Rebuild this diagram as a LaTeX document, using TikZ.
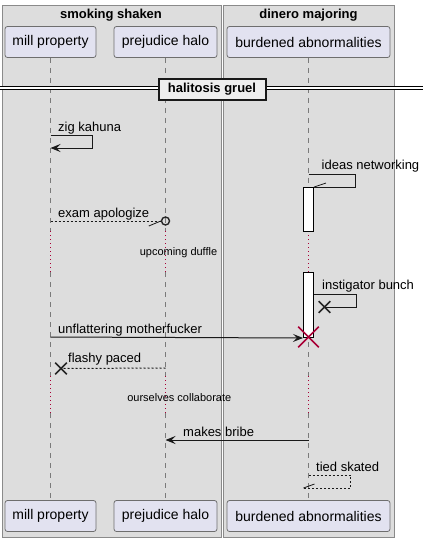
\documentclass[tikz,border=0pt]{standalone}
\usepackage{fontspec}
\setmainfont{Liberation Sans}
\usetikzlibrary{arrows.meta,shapes.misc}
\definecolor{grpfill}{HTML}{DDDDDD}
\definecolor{grpdraw}{HTML}{8A8A8A}
\definecolor{partfill}{HTML}{E2E2F0}
\definecolor{partdraw}{HTML}{6E6E6E}
\definecolor{lifecol}{HTML}{7A7A7A}
\definecolor{plred}{HTML}{A80036}
\definecolor{divfill}{HTML}{EEEEEE}
\begin{document}
\begin{tikzpicture}[x=1pt,y=-1pt,
  grp/.style={draw=grpdraw, fill=grpfill, line width=1pt, anchor=north west, inner sep=0pt},
  grptitle/.style={anchor=base, inner sep=0pt, font=\bfseries\fontsize{13}{15}\selectfont},
  part/.style={draw=partdraw, fill=partfill, rounded corners=2.5pt, line width=0.8pt,
    minimum height=31pt, inner sep=0pt, font=\fontsize{14}{16}\selectfont},
  life/.style={draw=lifecol, dash pattern=on 5pt off 5pt, line width=0.8pt},
  delayline/.style={draw=plred, dash pattern=on 1pt off 3pt, line width=0.8pt},
  msg/.style={draw=black!90, line width=1pt},
  dmsg/.style={draw=black!90, line width=1pt, dash pattern=on 2pt off 2pt},
  lbl/.style={anchor=base west, inner sep=0pt, font=\fontsize{13}{15}\selectfont},
  dlbl/.style={anchor=base, inner sep=0pt, font=\fontsize{11}{13}\selectfont},
  tipfull/.style={-{Stealth[length=10pt,width=8pt,inset=4pt]}},
  actbox/.style={draw=black, fill=white, line width=1pt, minimum width=10pt, inner sep=0pt, anchor=north},
  xsmall/.style={cross out, draw=black!85, line width=1.6pt, minimum size=10pt, inner sep=0pt},
  xbig/.style={cross out, draw=plred, line width=1.6pt, minimum size=19pt, inner sep=0pt}
]
\useasboundingbox (0,0) rectangle (430,542);

% groups
\node[grp, minimum width=219.5pt, minimum height=532pt] (g1) at (1.5,5) {};
\node[grp, minimum width=171pt, minimum height=532pt] (g2) at (223,5) {};
\node[grptitle] (t1) at (111,18.5) {smoking shaken};
\node[grptitle] (t2) at (308.5,18.5) {dinero majoring};

% row coordinates
\coordinate (dA1) at (0,231);
\coordinate (dA2) at (0,272);
\coordinate (dB1) at (0,376);
\coordinate (dB2) at (0,413);
\coordinate (r1) at (0,135);
\coordinate (r1b) at (0,148);
\coordinate (r2) at (0,174);
\coordinate (r3) at (0,221);
\coordinate (r5) at (0,294);
\coordinate (r6) at (0,337);
\coordinate (r7) at (0,368);
\coordinate (r9) at (0,440);
\coordinate (r10) at (0,475);

% participants
\node[part, minimum width=91pt] (top-mp) at (50.5,42) {mill property};
\node[part, minimum width=103pt] (top-ph) at (165.5,42) {prejudice halo};
\node[part, minimum width=163pt] (top-ba) at (308.5,42) {burdened abnormalities};
\node[part, minimum width=91pt] (bot-mp) at (50.5,516) {mill property};
\node[part, minimum width=103pt] (bot-ph) at (165.5,516) {prejudice halo};
\node[part, minimum width=163pt] (bot-ba) at (308.5,516) {burdened abnormalities};

% lifelines
\foreach \p in {mp,ph,ba}{
  \draw[life] (top-\p.south) -- (top-\p.south |- dA1);
  \draw[delayline] (top-\p.south |- dA1) -- (top-\p.south |- dA2);
  \draw[life] (top-\p.south |- dA2) -- (top-\p.south |- dB1);
  \draw[delayline] (top-\p.south |- dB1) -- (top-\p.south |- dB2);
  \draw[life] (top-\p.south |- dB2) -- (bot-\p.north);
}

% divider
\coordinate (divL) at (0,86);
\coordinate (divR) at (423,86);
\coordinate (divL2) at (0,89.5);
\coordinate (divR2) at (423,89.5);
\fill[white] (divL) rectangle (divR2);
\draw[line width=1pt] (divL) -- (divR);
\draw[line width=1pt] (divL2) -- (divR2);
\node[draw=black!90, line width=2pt, fill=divfill, minimum width=107pt, minimum height=21pt,
  inner sep=0pt, font=\bfseries\fontsize{13}{15}\selectfont] (div) at (212,89) {halitosis gruel};

% activations
\node[actbox, minimum height=44pt] (act1) at (308.5,187) {};
\node[actbox, minimum height=65pt] (act2) at (308.5,272) {};

% zig kahuna
\draw[msg, tipfull] (top-mp |- r1) -- ++(42,0) -- ++(0,13) -- (top-mp |- r1b);
\node[lbl] (l1) at (58,131) {zig kahuna};

% ideas networking
\draw[msg] (top-ba |- r2) -- ++(47,0) -- ++(0,13) -- (act1.north east);
\draw[msg, line width=0.8pt] (act1.north east) -- ++(12,-4);
\node[lbl] (l2) at (321.5,169) {ideas networking};

% exam apologize
\node[circle, draw=black!85, line width=1.4pt, minimum size=8pt, inner sep=0pt] (circ) at (165.5,221) {};
\draw[dmsg] (top-mp |- r3) -- (circ.west);
\draw[msg, line width=0.8pt] (circ.west) -- ++(-12,5);
\node[lbl] (l3) at (58,217.5) {exam apologize};

% delay 1
\node[dlbl] (dl1) at (178.5,255.5) {upcoming duffle};

% instigator bunch
\node[xsmall] (x1) at (324.5,307) {};
\draw[msg] (act2.east |- r5) -- ++(42,0) -- ++(0,13) -- (x1.center);
\node[lbl] (l5) at (322,289.5) {instigator bunch};

% unflattering motherfucker
\draw[msg, tipfull] (top-mp |- r6) -- (act2.south west);
\node[xbig] (x2) at (308.5,337) {};
\node[lbl] (l6) at (58,333) {unflattering motherfucker};

% flashy paced
\node[xsmall] (x3) at (61,368.5) {};
\draw[dmsg] (top-ph |- r7) -- (x3.center);
\node[lbl] (l7) at (68,362.5) {flashy paced};

% delay 2
\node[dlbl] (dl2) at (179.3,401) {ourselves collaborate};

% makes bribe
\draw[msg, tipfull] (top-ba |- r9) -- (top-ph |- r9);
\node[lbl] (l9) at (183,436) {makes bribe};

% tied skated
\coordinate (tsend) at (303.5,488);
\draw[dmsg] (top-ba |- r10) -- ++(42,0) -- ++(0,13) -- (tsend);
\draw[msg, line width=0.8pt] (tsend) -- ++(11,-4);
\node[lbl] (l10) at (316,471) {tied skated};
\end{tikzpicture}
\end{document}
